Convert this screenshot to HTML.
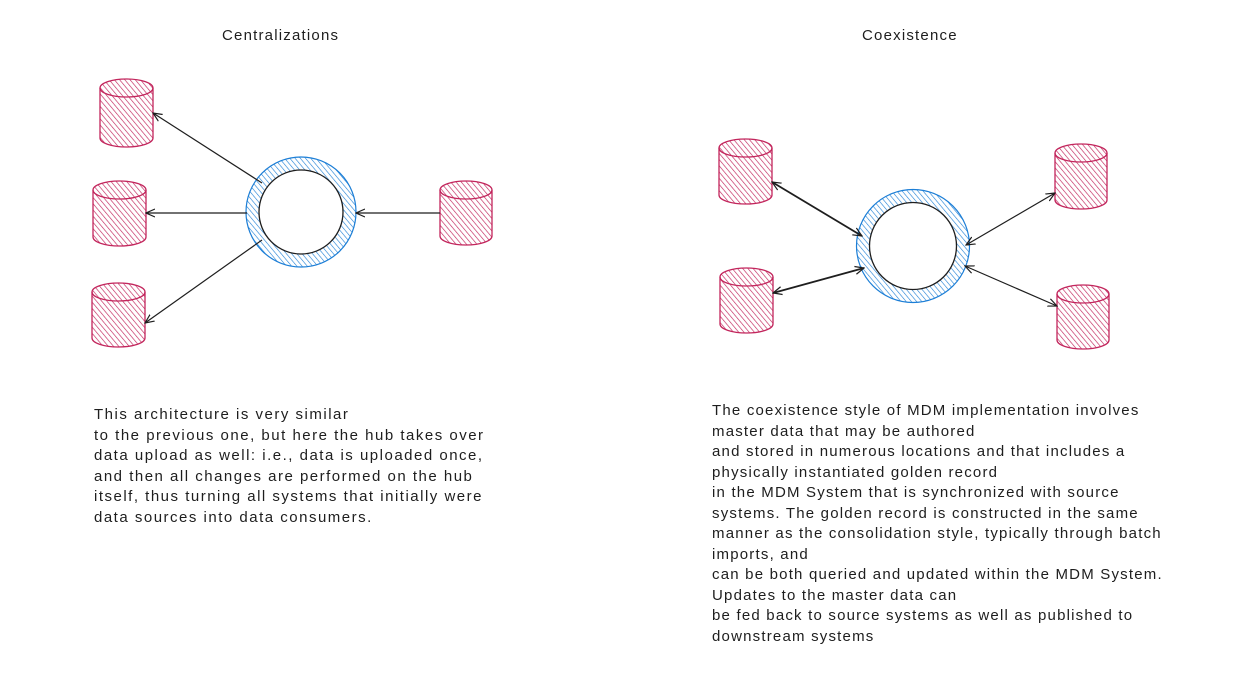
<!DOCTYPE html>
<html><head><meta charset="utf-8"><style>
body{margin:0;background:#fff;width:1253px;height:685px;overflow:hidden;position:relative;font-family:"Liberation Sans",sans-serif;color:#1e1e1e}
.t{position:absolute;font-size:15px;line-height:20.5px;white-space:pre;letter-spacing:0.3px}
svg{position:absolute;left:0;top:0}
</style></head><body>
<svg width="1253" height="685" viewBox="0 0 1253 685">
<defs>
<pattern id="hp" width="4" height="4" patternUnits="userSpaceOnUse" patternTransform="rotate(-40)">
<rect width="4" height="4" fill="#fff"/><line x1="0" y1="0" x2="0" y2="4" stroke="#c2255c" stroke-width="1.3"/></pattern>
<pattern id="hb" width="4" height="4" patternUnits="userSpaceOnUse" patternTransform="rotate(-40)">
<rect width="4" height="4" fill="#fff"/><line x1="0" y1="0" x2="0" y2="4" stroke="#1c7ed6" stroke-width="1.2"/></pattern>
<marker id="a" markerWidth="10" markerHeight="10" refX="9" refY="5" orient="auto-start-reverse" markerUnits="userSpaceOnUse">
<path d="M0,1 L9,5 L0,9" fill="none" stroke="#1e1e1e" stroke-width="1.2"/></marker>
</defs>
<g fill="url(#hp)" stroke="#c2255c" stroke-width="1.3">
<path d="M100,88 A26.5,9 0 0 1 153,88 L153,138 A26.5,9 0 0 1 100,138 Z"/><path d="M100,88 A26.5,9 0 0 0 153,88" fill="none"/>
<path d="M93,190 A26.5,9 0 0 1 146,190 L146,237 A26.5,9 0 0 1 93,237 Z"/><path d="M93,190 A26.5,9 0 0 0 146,190" fill="none"/>
<path d="M92,292 A26.5,9 0 0 1 145,292 L145,338 A26.5,9 0 0 1 92,338 Z"/><path d="M92,292 A26.5,9 0 0 0 145,292" fill="none"/>
<path d="M440,190 A26,9 0 0 1 492,190 L492,236 A26,9 0 0 1 440,236 Z"/><path d="M440,190 A26,9 0 0 0 492,190" fill="none"/>
<path d="M719,148 A26.5,9 0 0 1 772,148 L772,195 A26.5,9 0 0 1 719,195 Z"/><path d="M719,148 A26.5,9 0 0 0 772,148" fill="none"/>
<path d="M720,277 A26.5,9 0 0 1 773,277 L773,324 A26.5,9 0 0 1 720,324 Z"/><path d="M720,277 A26.5,9 0 0 0 773,277" fill="none"/>
<path d="M1055,153 A26,9 0 0 1 1107,153 L1107,200 A26,9 0 0 1 1055,200 Z"/><path d="M1055,153 A26,9 0 0 0 1107,153" fill="none"/>
<path d="M1057,294 A26,9 0 0 1 1109,294 L1109,340 A26,9 0 0 1 1057,340 Z"/><path d="M1057,294 A26,9 0 0 0 1109,294" fill="none"/>
</g>
<circle cx="301" cy="212" r="48.5" fill="none" stroke="url(#hb)" stroke-width="13"/>
<circle cx="301" cy="212" r="55" fill="none" stroke="#1c7ed6" stroke-width="1.2"/>
<circle cx="301" cy="212" r="42" fill="#fff" stroke="#1e1e1e" stroke-width="1.3"/>
<circle cx="913" cy="246" r="50" fill="none" stroke="url(#hb)" stroke-width="13"/>
<circle cx="913" cy="246" r="56.5" fill="none" stroke="#1c7ed6" stroke-width="1.2"/>
<circle cx="913" cy="246" r="43.5" fill="#fff" stroke="#1e1e1e" stroke-width="1.3"/>
<g stroke="#1e1e1e" stroke-width="1.2" fill="none">
<line x1="262" y1="183" x2="153" y2="113" marker-end="url(#a)"/>
<line x1="247" y1="213" x2="146" y2="213" marker-end="url(#a)"/>
<line x1="262" y1="240" x2="145" y2="323" marker-end="url(#a)"/>
<line x1="440" y1="213" x2="356" y2="213" marker-end="url(#a)"/>
<line x1="772" y1="182" x2="862" y2="236" marker-start="url(#a)" marker-end="url(#a)" stroke-width="1.8"/>
<line x1="773" y1="293" x2="864" y2="268" marker-start="url(#a)" marker-end="url(#a)" stroke-width="1.8"/>
<line x1="1055" y1="193" x2="966" y2="245" marker-start="url(#a)" marker-end="url(#a)"/>
<line x1="1057" y1="306" x2="965" y2="266" marker-start="url(#a)" marker-end="url(#a)"/>
</g>
</svg>
<div class="t" style="left:222px;top:26px;letter-spacing:1.2px">Centralizations</div>
<div class="t" style="left:862px;top:26px;letter-spacing:1.2px">Coexistence</div>
<div class="t" style="left:94px;top:405px;letter-spacing:1.5px">This architecture is very similar
to the previous one, but here the hub takes over
data upload as well: i.e., data is uploaded once,
and then all changes are performed on the hub
itself, thus turning all systems that initially were
data sources into data consumers.</div>
<div class="t" style="left:712px;top:401px;letter-spacing:1.2px">The coexistence style of MDM implementation involves
master data that may be authored
and stored in numerous locations and that includes a
physically instantiated golden record
in the MDM System that is synchronized with source
systems. The golden record is constructed in the same
manner as the consolidation style, typically through batch
imports, and
can be both queried and updated within the MDM System.
Updates to the master data can
be fed back to source systems as well as published to
downstream systems</div>
</body></html>
